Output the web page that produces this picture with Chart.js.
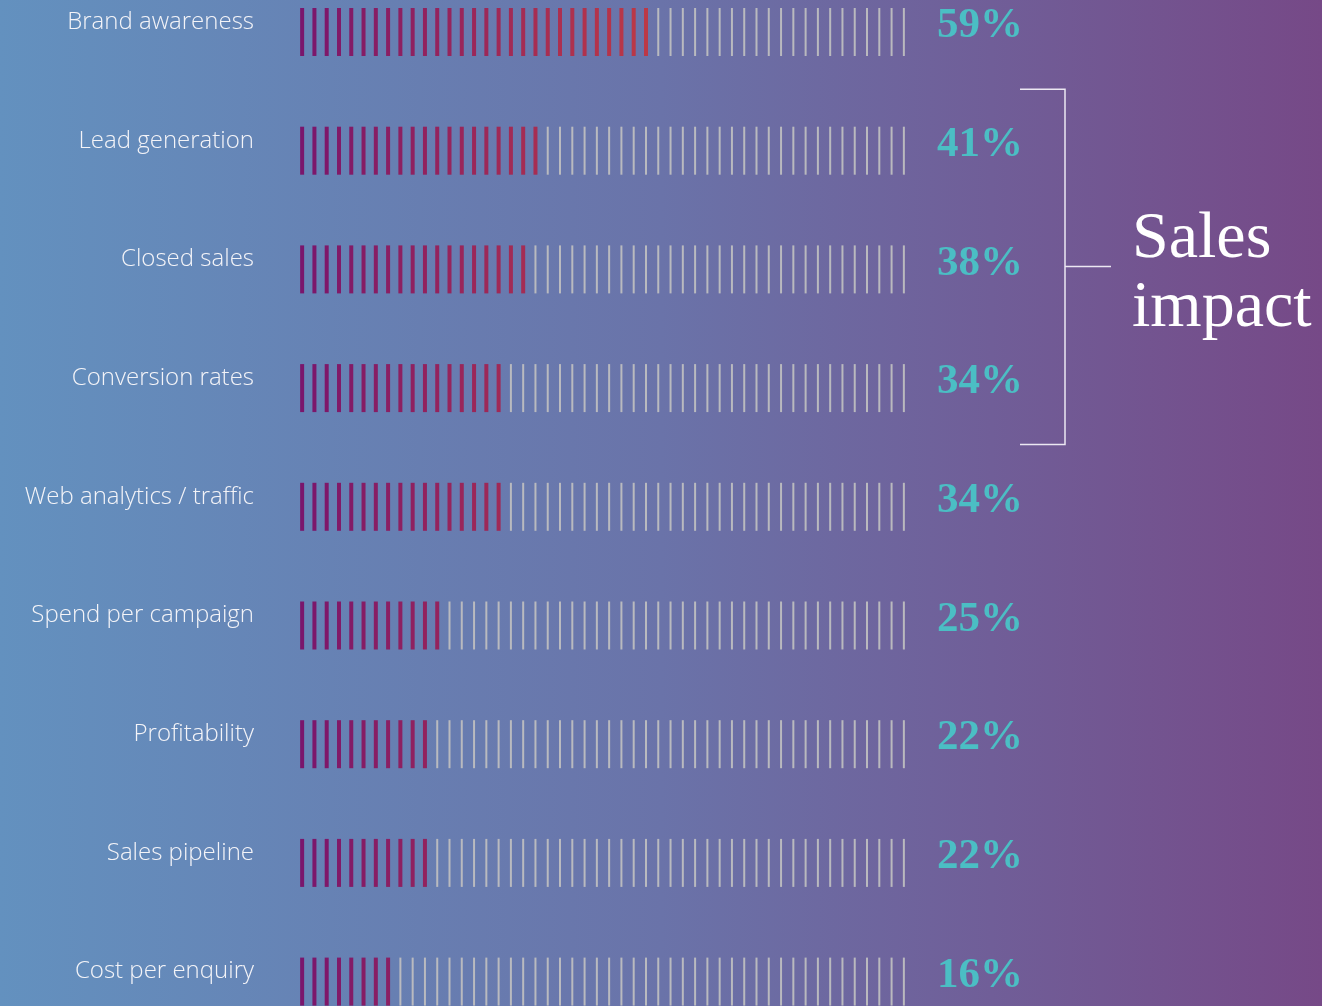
<!DOCTYPE html>
<html>
<head>
<meta charset="utf-8">
<title>Impact of marketing</title>
<script src="https://cdn.jsdelivr.net/npm/chart.js@4.4.1/dist/chart.umd.min.js"></script>
<style>
    html, body { margin: 0; padding: 0; }
    body {
        width: 1322px;
        height: 1006px;
        overflow: hidden;
        background: linear-gradient(to right, #6391bf 0%, #6a73a9 50%, #764987 100%);
    }
    #wrap { position: relative; width: 1322px; height: 1006px; }
</style>
</head>
<body>
<div id="wrap"><canvas id="impactChart"></canvas></div>
<script>
// Rows, top to bottom
const categories = [
    'Brand awareness',
    'Lead generation',
    'Closed sales',
    'Conversion rates',
    'Web analytics / traffic',
    'Spend per campaign',
    'Profitability',
    'Sales pipeline',
    'Cost per enquiry'
];
const values = [59, 41, 38, 34, 34, 25, 22, 22, 16];
const stripePct = 2;          // one stripe = 2%
const bracketRows = [1, 3];   // rows grouped by the bracket
const bracketTitle = ['Sales', 'impact'];

// Stripe colours: purple at the start fading into red further along
const fromRGB = [122, 22, 108];
const toRGB = [188, 56, 70];
const offColor = 'rgba(190, 190, 192, 0.95)';

function stripeColor(x) {
    const t = Math.min(1, Math.max(0, (x - 1) / 56));
    const c = fromRGB.map((v, i) => Math.round(v + (toRGB[i] - v) * t));
    return `rgb(${c[0]}, ${c[1]}, ${c[2]})`;
}

// One dataset per row, one point per stripe across the 0-100 scale
const datasets = categories.map((name, row) => {
    const filled = Math.floor(values[row] / stripePct);
    const points = [];
    for (let i = 0; i < 100 / stripePct; i++) {
        points.push({ x: i * stripePct + stripePct / 2, y: row, on: i < filled });
    }
    return {
        label: name,
        data: points,
        pointStyle: 'line',
        rotation: 90,
        radius: 24,
        borderColor: (ctx) => (ctx.raw && ctx.raw.on ? stripeColor(ctx.raw.x) : offColor),
        borderWidth: (ctx) => (ctx.raw && ctx.raw.on ? 4 : 2),
        showLine: false
    };
});

const rowTicks = (axis) => {
    axis.ticks = categories.map((c, i) => ({ value: i }));
};

// keep the row axis from shrinking the plot area for its labels
const fitRows = (width) => (axis) => {
    axis.width = width;
    axis.paddingTop = 0;
    axis.paddingBottom = 0;
};

// Bracket and title to the right of the percentages
const bracketPlugin = {
    id: 'bracket',
    afterDraw(chart) {
        const { ctx, scales: { y } } = chart;
        const top = y.getPixelForValue(bracketRows[0] - 0.5) - 2;
        const bottom = y.getPixelForValue(bracketRows[1] + 0.5) - 3;
        const mid = y.getPixelForValue((bracketRows[0] + bracketRows[1]) / 2) - 3;
        const x0 = 1020;
        const x1 = x0 + 45;
        const x2 = x1 + 46;

        ctx.save();
        ctx.strokeStyle = '#ece8f2';
        ctx.lineWidth = 1.5;
        ctx.beginPath();
        ctx.moveTo(x0, top);
        ctx.lineTo(x1, top);
        ctx.lineTo(x1, bottom);
        ctx.lineTo(x0, bottom);
        ctx.moveTo(x1, mid);
        ctx.lineTo(x2, mid);
        ctx.stroke();

        ctx.fillStyle = '#ffffff';
        ctx.font = '66px "Liberation Serif"';
        ctx.textAlign = 'left';
        ctx.textBaseline = 'alphabetic';
        ctx.fillText(bracketTitle[0], x2 + 21, mid - 9);
        ctx.fillText(bracketTitle[1], x2 + 21, mid + 60);
        ctx.restore();
    }
};

const rowMin = -32 / 118.7;
const rowMax = rowMin + 1006 / 118.7;

new Chart(document.getElementById('impactChart'), {
    type: 'scatter',
    data: { datasets },
    options: {
        responsive: true,
        maintainAspectRatio: false,
        animation: false,
        events: [],
        layout: { autoPadding: false, padding: { left: 0, right: 299, top: 0, bottom: 0 } },
        plugins: {
            legend: { display: false },
            tooltip: { enabled: false }
        },
        scales: {
            x: {
                type: 'linear',
                min: 0,
                max: 100,
                display: false
            },
            y: {
                type: 'linear',
                position: 'left',
                reverse: true,
                min: rowMin,
                max: rowMax,
                bounds: 'data',
                afterBuildTicks: rowTicks,
                afterFit: fitRows(296),
                grid: { display: false, drawTicks: false },
                border: { display: false },
                ticks: {
                    autoSkip: false,
                    padding: 42,
                    labelOffset: -10,
                    color: '#f4f4f8',
                    font: { family: 'Open Sans', size: 24, weight: 300 },
                    callback: (v) => categories[v]
                }
            },
            y2: {
                type: 'linear',
                position: 'right',
                reverse: true,
                min: rowMin,
                max: rowMax,
                bounds: 'data',
                afterBuildTicks: rowTicks,
                afterFit: fitRows(113),
                grid: { display: false, drawTicks: false },
                border: { display: false },
                ticks: {
                    autoSkip: false,
                    crossAlign: 'far',
                    labelOffset: -6,
                    color: '#4bbec4',
                    font: { family: 'Liberation Serif', size: 43, weight: 'bold' },
                    callback: (v) => values[v] + '%'
                }
            }
        }
    },
    plugins: [bracketPlugin]
});
</script>
</body>
</html>
